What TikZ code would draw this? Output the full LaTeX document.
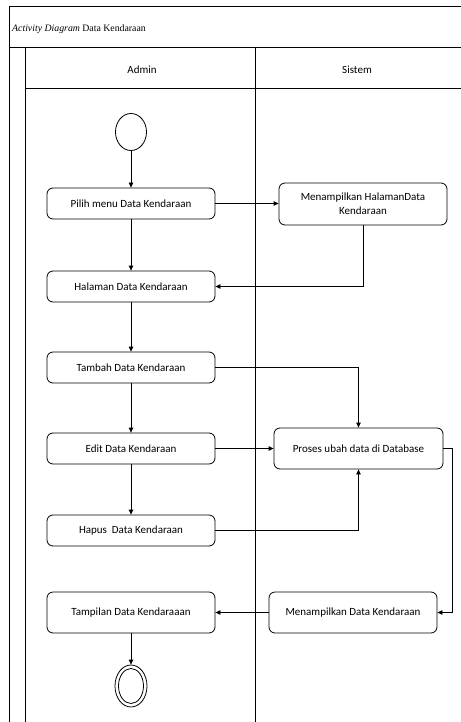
\documentclass[tikz,border=0pt]{standalone}
\usepackage{fontspec}
\setmainfont{Carlito}
\newfontfamily\titlefont{Liberation Serif}
\usetikzlibrary{arrows.meta,shapes.geometric}
\begin{document}
\begin{tikzpicture}[x=1pt,y=-1pt,
  frame/.style={draw=black,line width=1pt},
  act/.style={draw=black,line width=0.8pt,rounded corners=6pt,minimum width=168pt,align=center,font=\fontsize{11}{14}\selectfont,inner sep=2pt},
  flow/.style={draw=black,line width=0.8pt,-{Triangle[length=5pt,width=4.5pt]}},
  lane/.style={font=\fontsize{11}{13}\selectfont}]
\useasboundingbox (0,0) rectangle (460,722);
% frame
\coordinate (tl) at (9,7);
\coordinate (tr) at (461,7);
\draw[frame] (9,723) -- (tl) -- (tr);
\draw[frame] (9,48) -- (461,48);
\draw[frame] (25,48) -- (25,723);
\draw[frame] (25,89) -- (461,89);
\draw[frame] (255,48) -- (255,723);
\node[anchor=west,inner sep=0pt,font=\titlefont\fontsize{9.8}{11}\selectfont] (title) at (12,29) {\textit{Activity Diagram} Data Kendaraan};
\node[lane] (admin) at (142,70) {Admin};
\node[lane] (sistem) at (357,70) {Sistem};
% nodes
\node[draw=black,line width=0.8pt,ellipse,minimum width=31pt,minimum height=37pt,inner sep=0pt] (start) at (131,132) {};
\node[act,minimum height=31pt] (pilih) at (131,203.5) {Pilih menu Data Kendaraan};
\node[act,minimum height=42pt] (m1) at (363,204) {Menampilkan HalamanData\\Kendaraan};
\node[act,minimum height=31pt] (halaman) at (131,286.5) {Halaman Data Kendaraan};
\node[act,minimum height=31pt] (tambah) at (131,367.5) {Tambah Data Kendaraan};
\node[act,minimum height=31pt] (edit) at (131,448.5) {Edit Data Kendaraan};
\node[act,minimum height=41pt,minimum width=169pt] (proses) at (358.5,448.5) {Proses ubah data di Database};
\node[act,minimum height=31pt] (hapus) at (131,530.5) {Hapus~ Data Kendaraan};
\node[act,minimum height=41pt] (tampil) at (131,612.5) {Tampilan Data Kendaraaan};
\node[act,minimum height=41pt] (m2) at (353,612.5) {Menampilkan Data Kendaraan};
\node[draw=black,line width=0.8pt,ellipse,minimum width=32pt,minimum height=42pt,inner sep=0pt] (end) at (131,686) {};
\node[draw=black,line width=0.8pt,ellipse,minimum width=25pt,minimum height=35pt,inner sep=0pt] (endin) at (131,686) {};
% connectors
\coordinate (pr) at (452,448.5);
\draw[flow] (start) -- (pilih);
\draw[flow] (pilih.east) -- (pilih.east -| m1.west);
\draw[flow] (pilih) -- (halaman);
\draw[flow] (m1.south) |- (halaman.east);
\draw[flow] (halaman) -- (tambah);
\draw[flow] (tambah) -- (edit);
\draw[flow] (edit) -- (hapus);
\draw[flow] (tambah.east) -| (proses.north);
\draw[flow] (edit.east) -- (proses.west);
\draw[flow] (hapus.east) -| (proses.south);
\draw[flow] (proses.east) -- (pr) |- (m2.east);
\draw[flow] (m2.west) -- (tampil.east);
\draw[flow] (tampil) -- (end);
\end{tikzpicture}
\end{document}
